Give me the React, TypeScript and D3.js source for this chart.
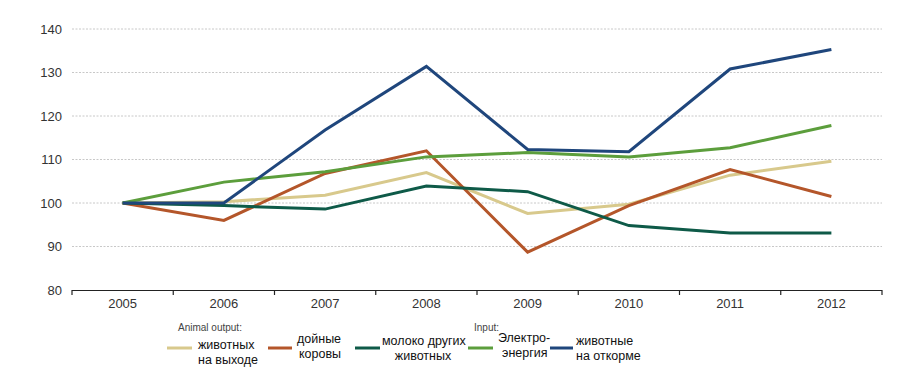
import React from "react";
import * as d3 from "d3";

const years = ["2005", "2006", "2007", "2008", "2009", "2010", "2011", "2012"];
const yTicks = [80, 90, 100, 110, 120, 130, 140];

const animalOutput = [100, 100.3, 101.8, 107, 97.6, 99.7, 106.4, 109.6];
const dairyCows = [100, 96, 106.8, 112, 88.7, 99.4, 107.7, 101.5];
const otherMilk = [100, 99.4, 98.6, 103.9, 102.6, 94.8, 93.1, 93.1];
const electricity = [100, 104.8, 107.2, 110.6, 111.6, 110.6, 112.7, 117.8];
const fattening = [100, 100, 116.8, 131.4, 112.3, 111.8, 130.8, 135.3];

const series = [
  { name: "животных на выходе", values: animalOutput, color: "#d8c98c" },
  { name: "дойные коровы", values: dairyCows, color: "#b4562a" },
  { name: "молоко других животных", values: otherMilk, color: "#0e5a48" },
  { name: "Электроэнергия", values: electricity, color: "#5c9e3c" },
  { name: "животные на откорме", values: fattening, color: "#1f467c" },
];

const legStyle: React.CSSProperties = { fontFamily: '"Liberation Sans", Arial, sans-serif', fontSize: "12.5px" };
const sansStyle: React.CSSProperties = { fontFamily: '"Liberation Sans", Arial, sans-serif' };

export default function App() {
  const W = 899, H = 375;
  const x = d3.scaleBand<string>().domain(years).range([72, 882]);
  const y = d3.scaleLinear().domain([80, 140]).range([290, 29]);
  const line = d3
    .line<number>()
    .x((_, i) => (x(years[i]) as number) + x.bandwidth() / 2)
    .y((d) => y(d));
  const boundaries = d3.range(years.length + 1).map((i) => 72 + i * x.bandwidth());

  return (
    <svg width={W} height={H} style={{ position: "absolute", left: 0, top: 0, background: "#fff" }}>
      {yTicks.map((t) => (
        <g key={t}>
          {t > 80 && (
            <line x1={72} x2={882} y1={y(t)} y2={y(t)} stroke="#c8c8c8" strokeWidth={1} strokeDasharray="2,1.5" />
          )}
          <text x={62} y={y(t)} dy="0.35em" textAnchor="end" style={{ ...sansStyle, fontSize: "13px" }} fill="#333">
            {t}
          </text>
        </g>
      ))}
      <line x1={72} x2={882} y1={290.5} y2={290.5} stroke="#222" strokeWidth={1.2} />
      {boundaries.map((b, i) => (
        <line key={i} x1={b} x2={b} y1={290} y2={295} stroke="#222" strokeWidth={1.2} />
      ))}
      {years.map((yr) => (
        <text key={yr} x={(x(yr) as number) + x.bandwidth() / 2} y={308} textAnchor="middle" style={{ ...sansStyle, fontSize: "13px" }} fill="#333">
          {yr}
        </text>
      ))}
      {series.map((s) => (
        <path key={s.name} d={line(s.values) as string} fill="none" stroke={s.color} strokeWidth={3} strokeLinejoin="miter" />
      ))}
      {/* legend */}
      <text x={178} y={331} style={{ ...sansStyle, fontSize: "10px" }} fill="#444">Animal output:</text>
      <text x={474} y={331} style={{ ...sansStyle, fontSize: "10px" }} fill="#444">Input:</text>

      <line x1={167} x2={192} y1={348} y2={348} stroke={series[0].color} strokeWidth={3} />
      <text x={198} y={349} style={legStyle} fill="#111">животных</text>
      <text x={198} y={364} style={legStyle} fill="#111">на выходе</text>

      <line x1={268} x2={292} y1={348} y2={348} stroke={series[1].color} strokeWidth={3} />
      <text x={297} y={343} style={legStyle} fill="#111">дойные</text>
      <text x={299} y={358} style={legStyle} fill="#111">коровы</text>

      <line x1={355} x2={380} y1={348} y2={348} stroke={series[2].color} strokeWidth={3} />
      <text x={382} y={345} style={legStyle} fill="#111">молоко других</text>
      <text x={423} y={360} textAnchor="middle" style={legStyle} fill="#111">животных</text>

      <line x1={468} x2={493} y1={348} y2={348} stroke={series[3].color} strokeWidth={3} />
      <text x={498} y={342} style={legStyle} fill="#111">Электро-</text>
      <text x={502} y={357} style={legStyle} fill="#111">энергия</text>

      <line x1={550} x2={573} y1={348} y2={348} stroke={series[4].color} strokeWidth={3} />
      <text x={576} y={345} style={legStyle} fill="#111">животные</text>
      <text x={576} y={360} style={legStyle} fill="#111">на откорме</text>
    </svg>
  );
}
